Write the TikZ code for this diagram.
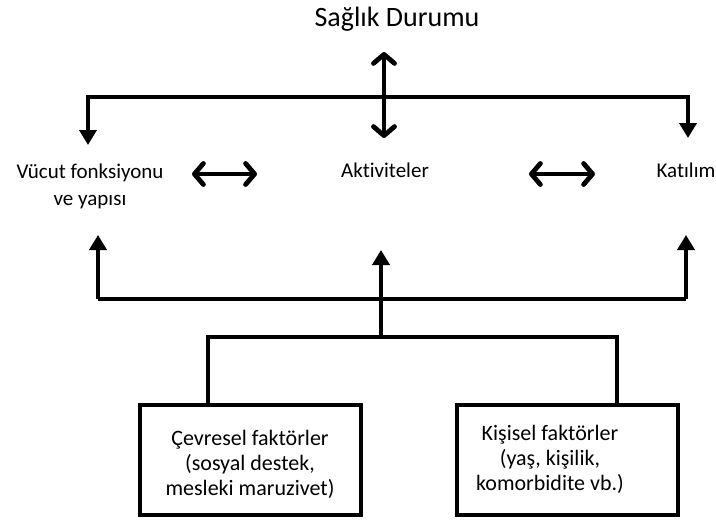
\documentclass[tikz,border=0pt]{standalone}
\usepackage{fontspec}
\setmainfont{Carlito}[Ligatures={NoCommon}]
\usetikzlibrary{arrows.meta}
\begin{document}
\begin{tikzpicture}[x=1pt,y=-1pt,
  lbl/.style={font=\fontsize{21}{27}\selectfont, align=center, inner sep=0pt},
  ttl/.style={font=\fontsize{28}{32}\selectfont, inner sep=0pt},
  btxt/.style={font=\fontsize{22}{25}\selectfont, align=center, inner sep=0pt},
  conn/.style={line width=4pt},
  tri/.style={conn,-{Triangle[length=15pt,width=17pt]}},
  tri2/.style={conn,{Triangle[length=15pt,width=17pt]}-{Triangle[length=15pt,width=17pt]}},
  barb/.style={line width=4.8pt,{Straight Barb[length=9pt,width=21pt,round]}-{Straight Barb[length=9pt,width=21pt,round]}},
  box/.style={draw, line width=4pt, minimum width=221pt, minimum height=110pt, inner sep=0pt}]
\useasboundingbox (0,0) rectangle (716,522);

% texts
\node[ttl, anchor=base] (title) at (397,27) {Sağlık Durumu};
\node[lbl] (vucut) at (90,186) {Vücut fonksiyonu\\ve yapısı};
\node[lbl, anchor=base] (akt) at (385,177) {Aktiviteler};
\node[lbl, anchor=base] (kat) at (686,177) {Katılım};

% boxes
\node[box] (lbox) at (250.5,460) {};
\node[box] (rbox) at (567,460) {};
\node[btxt] (ltxt) at (250,464) {Çevresel faktörler\\(sosyal destek,\\mesleki maruzivet)};
\node[btxt] (rtxt) at (550,459) {Kişisel faktörler\\(yaş, kişilik,\\komorbidite vb.)};

% coordinates
\coordinate (vtop) at (384,52);
\coordinate (vbot) at (384,138);
\coordinate (hl) at (88,97);
\coordinate (hr) at (688,97);
\coordinate (ltip) at (88,145);
\coordinate (rtip) at (688,138);
\coordinate (a1l) at (192,174);
\coordinate (a1r) at (257,174);
\coordinate (a2l) at (529,174);
\coordinate (a2r) at (595,174);
\coordinate (bl) at (98,299);
\coordinate (br) at (686,299);
\coordinate (bltip) at (98,235);
\coordinate (brtip) at (686,235);
\coordinate (tm) at (381,337);
\coordinate (tmtip) at (381,250);
\coordinate (tl) at (208,337);
\coordinate (tr) at (617,337);

% top
\draw[tri2] (ltip) -- (hl) -- (hr) -- (rtip);
\draw[barb] (vtop) -- (vbot);
\draw[barb] (a1l) -- (a1r);
\draw[barb] (a2l) -- (a2r);

% bottom
\draw[tri] (bl) -- (bltip);
\draw[tri] (br) -- (brtip);
\draw[conn] (bl) -- (br);
\draw[tri] (tm) -- (tmtip);
\draw[conn] (lbox.north -| tl) -- (tl) -- (tr) -- (rbox.north -| tr);
\end{tikzpicture}
\end{document}
